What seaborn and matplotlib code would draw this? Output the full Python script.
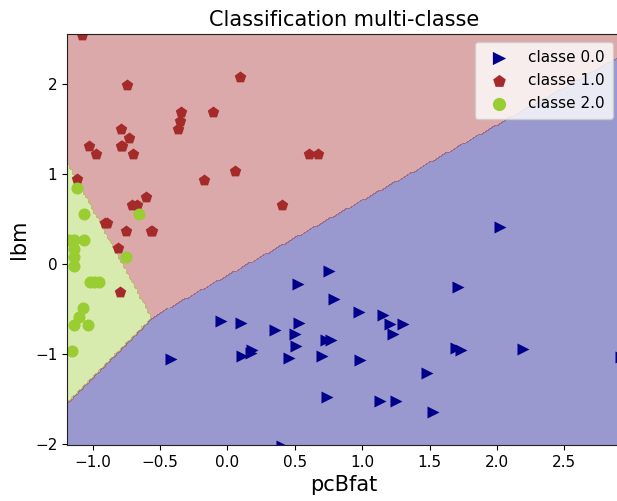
import numpy as np
import pandas as pd
import matplotlib
matplotlib.use("Agg")
import matplotlib.pyplot as plt
from matplotlib.colors import ListedColormap
import seaborn as sns

# ---- data ----
class0_x = [2.019, 0.757, 0.525, 1.714, 0.79, 0.974, 1.155, 1.207, 1.302, 1.225,
            -0.048, 0.098, 0.53, 0.354, 0.503, 0.731, 0.771, 0.508, 0.18, 0.173,
            0.106, 0.46, 0.704, 0.98, 1.694, 1.731, 2.193, 2.92, 1.484, 0.739,
            1.132, 1.252, 1.524, 0.402, -0.416]
class0_y = [0.41, -0.085, -0.224, -0.26, -0.387, -0.538, -0.563, -0.663, -0.663, -0.777,
            -0.632, -0.658, -0.658, -0.739, -0.784, -0.843, -0.843, -0.917, -0.961, -0.99,
            -1.028, -1.05, -1.028, -1.065, -0.936, -0.961, -0.943, -1.035, -1.21, -1.48,
            -1.52, -1.52, -1.644, -2.02, -1.055]

class1_x = [-1.078, -0.746, 0.095, -0.344, -0.110, -0.354, -0.366, -0.791, -0.731, -1.026,
            -0.791, -0.78, -0.977, -0.701, 0.609, 0.669, 0.054, -0.170, -1.118, -0.607,
            -0.706, -0.672, 0.406, -0.91, -0.89, -0.751, -0.57, -0.557, -0.808, -0.80]
class1_y = [2.54, 1.98, 2.07, 1.69, 1.69, 1.59, 1.50, 1.50, 1.40, 1.31,
            1.31, 1.31, 1.215, 1.215, 1.215, 1.215, 1.03, 0.93, 0.94, 0.746,
            0.65, 0.65, 0.65, 0.458, 0.458, 0.366, 0.366, 0.366, 0.174, -0.307]

class2_x = [-1.115, -1.066, -0.659, -1.173, -1.141, -1.061, -1.136, -1.141, -0.75, -1.138,
            -1.016, -0.992, -0.955, -1.069, -1.098, -1.136, -1.031, -1.153]
class2_y = [0.84, 0.554, 0.554, 0.266, 0.266, 0.266, 0.17, 0.074, 0.074, -0.019,
            -0.207, -0.207, -0.207, -0.495, -0.59, -0.684, -0.684, -0.972]

class_names = ["classe 0.0", "classe 1.0", "classe 2.0"]
class_colors = ["darkblue", "brown", "yellowgreen"]
class_markers = [">", "p", "o"]

# linear decision scores per class: (coef_x, coef_y, intercept)
coef_x = [0.0, -0.835, -1.2697]
coef_y = [0.0, 1.0, 0.842]
intercept = [0.0, 0.1324, -0.2059]

xlim = (-1.19, 2.92)
ylim = (-2.01, 2.55)

# ---- figure ----
sns.set_style("ticks")
plt.rcParams["font.family"] = ["DejaVu Sans"]

fig = plt.figure(figsize=(6.17, 5.01), dpi=100)
ax = fig.add_axes([67 / 617, (501 - 445) / 501, (621 - 67) / 617, (445 - 34) / 501])

# decision regions
xx, yy = np.meshgrid(np.arange(xlim[0] - 0.05, xlim[1] + 0.05, 0.02),
                     np.arange(ylim[0] - 0.05, ylim[1] + 0.05, 0.02))
scores = np.stack([coef_x[k] * xx + coef_y[k] * yy + intercept[k] for k in range(3)])
Z = np.argmax(scores, axis=0)
ax.contourf(xx, yy, Z, levels=[-0.5, 0.5, 1.5, 2.5],
            cmap=ListedColormap(class_colors), alpha=0.4)

frames = []
for name, xs, ys in zip(class_names, [class0_x, class1_x, class2_x], [class0_y, class1_y, class2_y]):
    frames.append(pd.DataFrame({"pcBfat": xs, "lbm": ys, "classe": name}))
df = pd.concat(frames, ignore_index=True)

for name, col, mk in zip(class_names, class_colors, class_markers):
    sns.scatterplot(data=df[df["classe"] == name], x="pcBfat", y="lbm", ax=ax,
                    color=col, marker=mk, s=75, linewidth=0, label=name)

ax.set_xlim(*xlim)
ax.set_ylim(*ylim)
ax.set_xticks([-1.0, -0.5, 0.0, 0.5, 1.0, 1.5, 2.0, 2.5])
ax.set_yticks([-2, -1, 0, 1, 2])
ax.tick_params(labelsize=11, colors="black")
ax.set_xlabel("pcBfat", fontsize=15, color="black")
ax.set_ylabel("lbm", fontsize=15, color="black")
ax.set_title("Classification multi-classe", fontsize=15, color="black")
for sp in ax.spines.values():
    sp.set_color("#222222")

leg = ax.legend(loc="upper right", bbox_to_anchor=(613 / 617, 1 - 42 / 501),
                bbox_transform=fig.transFigure, fontsize=11, framealpha=0.8,
                borderaxespad=0, handletextpad=0.9, borderpad=0.55, markerscale=1.1)
for t in leg.get_texts():
    t.set_color("black")

fig.savefig("out.png", dpi=100)
